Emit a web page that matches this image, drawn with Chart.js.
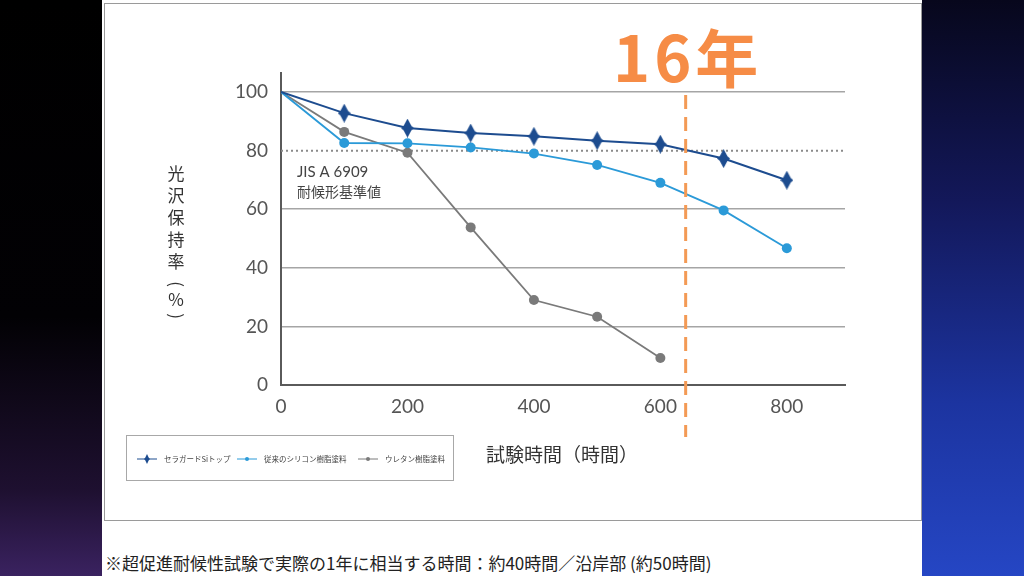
<!DOCTYPE html>
<html lang="ja">
<head>
<meta charset="utf-8">
<title>光沢保持率</title>
<script src="https://cdn.jsdelivr.net/npm/chart.js"></script>
<style>
  html, body { margin: 0; padding: 0; }
  body { width: 1024px; height: 576px; position: relative; overflow: hidden; background: #fff; }
  .left-bg { position: absolute; left: 0; top: 0; width: 102px; height: 576px;
    background: linear-gradient(180deg, #000 0%, #020104 55%, #1e1030 85%, #3a2260 100%); }
  .right-bg { position: absolute; left: 922px; top: 0; width: 102px; height: 576px;
    background: linear-gradient(180deg, #07071c 0%, #13185a 35%, #1c34a0 70%, #2546c4 100%); }
  .box { position: absolute; left: 104px; top: 3px; width: 816px; height: 516px; border: 1px solid #9a9a9a; }
  .note { position: absolute; left: 105px; top: 550px; font: 17px "Noto Sans CJK JP", sans-serif; color: #222; white-space: nowrap; }
  canvas { position: absolute; left: 0; top: 0; }
</style>
</head>
<body>
<div class="left-bg"></div>
<div class="right-bg"></div>
<div class="box"></div>
<div class="note">※超促進耐候性試験で実際の1年に相当する時間：約40時間／沿岸部 (約50時間)</div>
<canvas id="myChart" width="1024" height="576"></canvas>
<script>
// データ
const hours = [0, 100, 200, 300, 400, 500, 600, 700, 800];
const ceraguard = [100, 92.8, 87.7, 86.0, 84.9, 83.4, 82.2, 77.3, 69.9];
const silicone = [100, 82.6, 82.5, 81.1, 79.0, 75.1, 69.0, 59.6, 46.7];
const urethane = [100, 86.4, 79.3, 53.8, 29.0, 23.3, 9.2];
const seriesNames = ['セラガードSiトップ', '従来のシリコン樹脂塗料', 'ウレタン樹脂塗料'];
const seriesColors = ['#1d4c8f', '#2b9ad8', '#7a7a7a'];
const yTicks = [0, 20, 40, 60, 80, 100];
const xTicks = [0, 200, 400, 600, 800];
const standardValue = 80;     // JIS A 6909 耐候形基準値
const sixteenYears = 640;     // 16年 = 40時間 × 16

const jpFont = '"Noto Sans CJK JP", sans-serif';
const numFont = 'Lato, "Noto Sans", sans-serif';

// ひし形マーカー
function makeStar(w, h, color) {
  const c = document.createElement('canvas');
  c.width = w; c.height = h;
  const g = c.getContext('2d');
  const cx = w / 2, cy = h / 2;
  g.fillStyle = color;
  g.beginPath();
  g.moveTo(cx, 0);
  g.lineTo(cx + w * 0.3, cy - h * 0.12);
  g.lineTo(w, cy);
  g.lineTo(cx + w * 0.3, cy + h * 0.12);
  g.lineTo(cx, h);
  g.lineTo(cx - w * 0.3, cy + h * 0.12);
  g.lineTo(0, cy);
  g.lineTo(cx - w * 0.3, cy - h * 0.12);
  g.closePath();
  g.fill();
  return c;
}
const starBig = makeStar(13, 19, seriesColors[0]);
const starSmall = makeStar(6, 10, seriesColors[0]);

function toPoints(vals) {
  return vals.map((v, i) => ({ x: hours[i], y: v }));
}
const hideFirst = r => ctx => (ctx.dataIndex === 0 ? 0 : r);

// 注釈・軸タイトル・凡例
const extras = {
  id: 'extras',
  beforeDatasetsDraw(chart) {
    const { ctx, chartArea, scales } = chart;
    const y = scales.y.getPixelForValue(standardValue);
    ctx.save();
    ctx.strokeStyle = '#8a8a8a';
    ctx.lineWidth = 2;
    ctx.setLineDash([2, 3]);
    ctx.beginPath();
    ctx.moveTo(chartArea.left, y);
    ctx.lineTo(chartArea.right, y);
    ctx.stroke();
    ctx.restore();
  },
  afterDatasetsDraw(chart) {
    const { ctx, scales } = chart;
    ctx.save();

    // 16年 line
    const x16 = scales.x.getPixelForValue(sixteenYears);
    ctx.strokeStyle = '#f39a55';
    ctx.lineWidth = 3;
    ctx.setLineDash([14, 8]);
    ctx.beginPath();
    ctx.moveTo(x16, 95);
    ctx.lineTo(x16, 437);
    ctx.stroke();
    ctx.setLineDash([]);

    ctx.fillStyle = '#f68c46';
    ctx.font = 'bold 63px ' + jpFont;
    ctx.letterSpacing = '4px';
    ctx.textAlign = 'left';
    ctx.textBaseline = 'alphabetic';
    ctx.fillText('16年', 613, 82);
    ctx.letterSpacing = '0px';

    // JIS annotation
    ctx.fillStyle = '#444';
    ctx.font = '15px ' + numFont;
    ctx.fillText('JIS A 6909', 297, 177);
    ctx.font = '14px ' + jpFont;
    ctx.fillText('耐候形基準値', 297, 197);

    // y title (縦書き)
    ctx.fillStyle = '#333';
    ctx.font = '17px ' + jpFont;
    ctx.textAlign = 'center';
    ctx.textBaseline = 'middle';
    ['光', '沢', '保', '持', '率'].forEach((ch, i) => ctx.fillText(ch, 176, 174 + i * 22));
    ctx.fillText('％', 176, 300);
    [['(', 284], [')', 316]].forEach(([ch, py]) => {
      ctx.save();
      ctx.translate(176, py);
      ctx.rotate(Math.PI / 2);
      ctx.fillText(ch, 0, 0);
      ctx.restore();
    });

    // x title
    ctx.fillStyle = '#333';
    ctx.font = '19px ' + jpFont;
    ctx.fillText('試験時間（時間）', 562, 455);

    // legend
    ctx.strokeStyle = '#a8a8a8';
    ctx.lineWidth = 1;
    ctx.strokeRect(126.5, 435.5, 327, 45);
    const lx = [137, 237, 358];
    ctx.font = '7.5px ' + jpFont;
    ctx.textAlign = 'left';
    seriesNames.forEach((name, i) => {
      const ly = 459;
      ctx.strokeStyle = seriesColors[i];
      ctx.lineWidth = 1;
      ctx.beginPath();
      ctx.moveTo(lx[i], ly);
      ctx.lineTo(lx[i] + 20, ly);
      ctx.stroke();
      if (i === 0) {
        ctx.drawImage(starSmall, lx[i] + 7, ly - 5);
      } else {
        ctx.fillStyle = seriesColors[i];
        ctx.beginPath();
        ctx.arc(lx[i] + 10, ly, 2, 0, Math.PI * 2);
        ctx.fill();
      }
      ctx.fillStyle = '#444';
      ctx.fillText(name, lx[i] + 27, ly);
    });

    ctx.restore();
  }
};

new Chart(document.getElementById('myChart'), {
  type: 'line',
  data: {
    datasets: [
      {
        label: seriesNames[0],
        data: toPoints(ceraguard),
        borderColor: seriesColors[0],
        backgroundColor: seriesColors[0],
        borderWidth: 2,
        pointStyle: starBig,
        pointRadius: hideFirst(7),
        tension: 0
      },
      {
        label: seriesNames[1],
        data: toPoints(silicone),
        borderColor: seriesColors[1],
        backgroundColor: seriesColors[1],
        borderWidth: 1.8,
        pointRadius: hideFirst(5),
        pointBorderWidth: 0,
        tension: 0
      },
      {
        label: seriesNames[2],
        data: toPoints(urethane),
        borderColor: seriesColors[2],
        backgroundColor: seriesColors[2],
        borderWidth: 1.8,
        pointRadius: hideFirst(5),
        pointBorderWidth: 0,
        tension: 0
      }
    ]
  },
  options: {
    responsive: false,
    animation: false,
    layout: { padding: { left: 231, right: 179, top: 73, bottom: 161 } },
    plugins: { legend: { display: false }, tooltip: { enabled: false } },
    scales: {
      x: {
        type: 'linear',
        min: 0,
        max: 892,
        afterFit: s => { s.height = 30; },
        afterBuildTicks: s => { s.ticks = xTicks.map(v => ({ value: v })); },
        grid: { display: false, drawTicks: false },
        border: { color: '#5a5a5a', width: 2 },
        ticks: { color: '#555', font: { family: numFont, size: 19 }, padding: 10, maxRotation: 0 }
      },
      y: {
        min: 0,
        max: 106.5,
        afterFit: s => { s.width = 50; },
        afterBuildTicks: s => { s.ticks = yTicks.map(v => ({ value: v })); },
        grid: {
          drawTicks: false,
          lineWidth: 1.5,
          color: ctx => (ctx.tick && (ctx.tick.value === standardValue || ctx.tick.value === 0) ? 'rgba(0,0,0,0)' : '#a5a5a5')
        },
        border: { color: '#5a5a5a', width: 2 },
        ticks: { color: '#555', font: { family: numFont, size: 19 }, padding: 13 }
      }
    }
  },
  plugins: [extras]
});
</script>
</body>
</html>
